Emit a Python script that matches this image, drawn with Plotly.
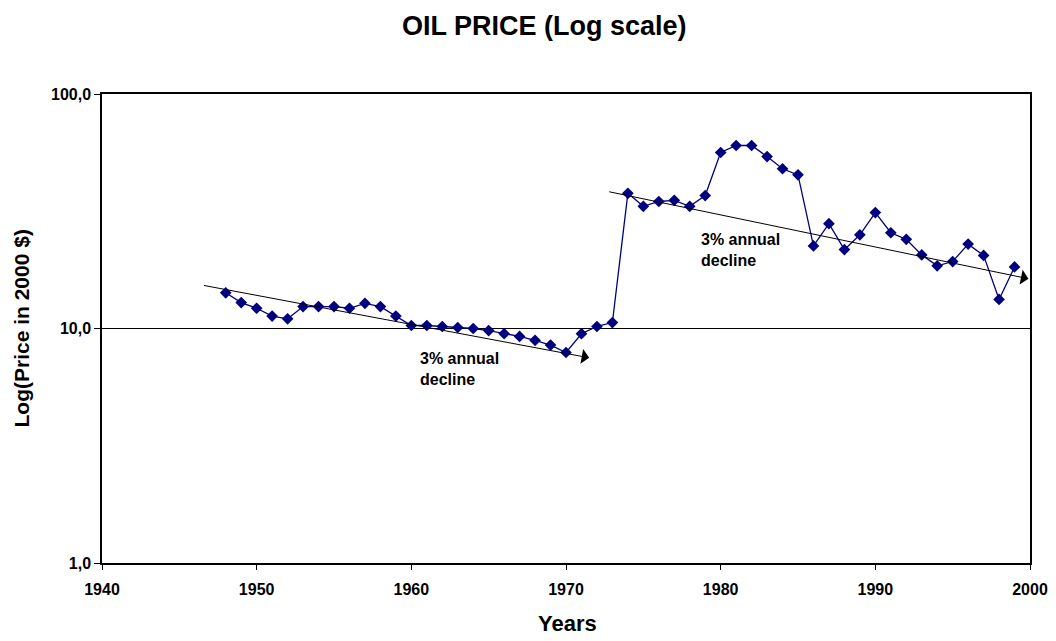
import math
import plotly.graph_objects as go

years = list(range(1948, 2000))
price = [14.2, 12.9, 12.2, 11.3, 11.0, 12.4, 12.4, 12.4, 12.2, 12.8, 12.4, 11.3,
         10.3, 10.3, 10.2, 10.1, 10.0, 9.8, 9.5, 9.25, 8.9, 8.5, 7.9, 9.5, 10.2, 10.6,
         37.7, 33.2, 34.8, 35.2, 33.2, 36.9, 56.3, 60.3, 60.3, 54.1, 48.0, 45.2,
         22.5, 28.0, 21.7, 25.1, 31.2, 25.6, 24.0, 20.6, 18.5, 19.3, 22.9, 20.5, 13.3, 18.3]

trend1_start = (1946.5, 15.3)
trend1_end = (1971.5, 7.5)
trend2_start = (1972.7, 38.4)
trend2_end = (1999.9, 16.3)
label_text = "<b>3% annual<br>decline</b>"
label1_pos = (1960.4, 6.71)
label2_pos = (1978.6, 21.7)

y_ticks = [1, 10, 100]
y_ticktext = ["1,0", "10,0", "100,0"]

FONT = "Liberation Sans, Arial, sans-serif"

# plot box in pixels
L, R, T, B = 102, 1030, 94, 563
W, H = 1056, 641
PH = B - T
PW = R - L

fig = go.Figure()
fig.add_trace(go.Scatter(
    x=years, y=price, mode="lines+markers",
    line=dict(color="#000080", width=1.3),
    marker=dict(symbol="diamond", size=9, color="#000080"),
    showlegend=False, hoverinfo="x+y"))

for (s, e) in [(trend1_start, trend1_end), (trend2_start, trend2_end)]:
    fig.add_annotation(
        x=e[0], y=math.log10(e[1]), ax=s[0], ay=math.log10(s[1]),
        xref="x", yref="y", axref="x", ayref="y",
        showarrow=True, arrowhead=1, arrowsize=2.5, arrowwidth=1,
        arrowcolor="black", text="")

for pos in [label1_pos, label2_pos]:
    fig.add_annotation(
        x=pos[0], y=math.log10(pos[1]), xref="x", yref="y",
        text=label_text, showarrow=False, align="left", xanchor="left",
        yanchor="middle",
        font=dict(family=FONT, size=16, color="black"))

# title and axis titles
fig.add_annotation(x=(544 - L) / PW, y=1 + (T - 26) / PH, xref="paper", yref="paper",
                   text="<b>OIL PRICE (Log scale)</b>", showarrow=False,
                   xanchor="center", yanchor="middle",
                   font=dict(family=FONT, size=27, color="black"))
fig.add_annotation(x=(567 - L) / PW, y=-(623 - B) / PH, xref="paper", yref="paper",
                   text="<b>Years</b>", showarrow=False,
                   xanchor="center", yanchor="middle",
                   font=dict(family=FONT, size=22, color="black"))
fig.add_annotation(x=-(L - 21) / PW, y=0.5, xref="paper", yref="paper",
                   text="<b>Log(Price in 2000 $)</b>", showarrow=False, textangle=-90,
                   xanchor="center", yanchor="middle",
                   font=dict(family=FONT, size=21, color="black"))

fig.update_layout(
    width=W, height=H,
    paper_bgcolor="white", plot_bgcolor="white",
    margin=dict(l=L, r=W - R, t=T, b=H - B, autoexpand=False),
    font=dict(family=FONT, color="black"),
)
fig.update_xaxes(
    range=[1940, 2000], dtick=10, tick0=1940, automargin=False,
    showgrid=False, zeroline=False,
    showline=True, linecolor="black", linewidth=1.5, mirror=True,
    ticks="outside", ticklen=5, tickcolor="black", ticklabelstandoff=6,
    tickfont=dict(family=FONT, size=16, color="black", weight="bold"),
)
fig.update_yaxes(
    type="log", range=[0, 2], automargin=False,
    tickvals=y_ticks, ticktext=y_ticktext,
    showgrid=True, gridcolor="black", gridwidth=1, zeroline=False,
    showline=True, linecolor="black", linewidth=1.5, mirror=True,
    ticks="outside", ticklen=6, tickcolor="black",
    tickfont=dict(family=FONT, size=16, color="black", weight="bold"),
)

fig.write_html("out.html", config={"displayModeBar": False},
               post_script="document.body.style.margin='0';document.body.style.overflow='hidden';")
